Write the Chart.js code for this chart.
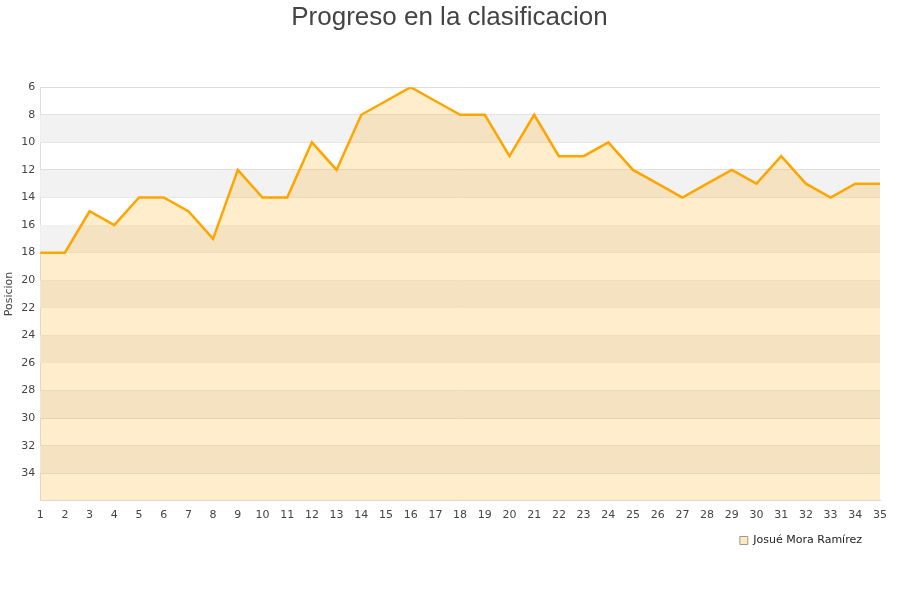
<!DOCTYPE html>
<html>
<head>
<meta charset="utf-8">
<script src="https://cdn.jsdelivr.net/npm/chart.js@4/dist/chart.umd.min.js"></script>
<style>
  html, body { margin: 0; padding: 0; background: #fff; }
  #wrap { width: 900px; height: 600px; }
</style>
</head>
<body>
<div id="wrap"><canvas id="chart"></canvas></div>
<script>
const jornadas = ['1','2','3','4','5','6','7','8','9','10','11','12','13','14','15','16','17','18','19','20','21','22','23','24','25','26','27','28','29','30','31','32','33','34','35'];
const posiciones = [18, 18, 15, 16, 14, 14, 15, 17, 12, 14, 14, 10, 12, 8, 7, 6, 7, 8, 8, 11, 8, 11, 11, 10, 12, 13, 14, 13, 12, 13, 11, 13, 14, 13, 13];
const jugador = 'Josué Mora Ramírez';
const posMin = 6;
const posMax = 36;

// alternating grey bands behind the area
const bands = {
    id: 'bands',
    beforeDatasetsDraw(chart) {
        const ctx = chart.ctx;
        const area = chart.chartArea;
        const y = chart.scales.y;
        ctx.save();
        ctx.fillStyle = '#f2f2f2';
        for (let v = posMin + 2; v < posMax; v += 4) {
            const top = y.getPixelForValue(v);
            const bottom = y.getPixelForValue(Math.min(v + 2, posMax));
            ctx.fillRect(area.left, top, area.right - area.left, bottom - top);
        }
        ctx.restore();
    }
};

// nudge legend away from the right edge and re-centre the title on the page
const boxShift = {
    id: 'boxShift',
    afterLayout(chart) {
        if (chart.legend) {
            chart.legend.right -= 13;
        }
        if (chart.titleBlock) {
            chart.titleBlock.left += 8;
            chart.titleBlock.right += 8;
        }
    }
};

new Chart(document.getElementById('chart').getContext('2d'), {
    type: 'line',
    data: {
        labels: jornadas,
        datasets: [{
            label: jugador,
            data: posiciones,
            borderColor: '#ffa500',
            backgroundColor: 'rgba(255, 165, 0, 0.2)',
            borderWidth: 2.5,
            fill: 'start',
            tension: 0,
            pointRadius: 0,
            pointHoverRadius: 0
        }]
    },
    options: {
        responsive: true,
        maintainAspectRatio: false,
        animation: false,
        layout: {
            padding: { left: 3, right: 20, top: 2, bottom: 44 }
        },
        plugins: {
            title: {
                display: true,
                text: 'Progreso en la clasificacion',
                color: '#444',
                font: { family: 'Liberation Sans', size: 26, weight: 'normal' },
                padding: { top: 0, bottom: 54 }
            },
            legend: {
                position: 'bottom',
                align: 'end',
                labels: {
                    color: '#222',
                    boxWidth: 8,
                    boxHeight: 8,
                    font: { family: 'DejaVu Sans', size: 11 },
                    padding: 5,
                    generateLabels: function(chart) {
                        const items = Chart.defaults.plugins.legend.labels.generateLabels(chart);
                        items.forEach(function(it) {
                            it.lineWidth = 1;
                            it.strokeStyle = '#999';
                            it.fillStyle = '#ffe8c0';
                        });
                        return items;
                    }
                }
            },
            tooltip: { enabled: false }
        },
        scales: {
            x: {
                offset: false,
                grid: { display: false, drawTicks: false },
                border: { color: '#ddd' },
                ticks: {
                    color: '#444',
                    font: { family: 'DejaVu Sans', size: 11 },
                    maxRotation: 0,
                    autoSkip: false,
                    padding: 8
                }
            },
            y: {
                reverse: true,
                min: posMin,
                max: posMax,
                grid: { color: '#e0ddd8', drawTicks: false },
                border: { color: '#ddd' },
                title: {
                    display: true,
                    text: 'Posicion',
                    color: '#444',
                    font: { family: 'DejaVu Sans', size: 11 },
                    padding: 0
                },
                ticks: {
                    stepSize: 2,
                    color: '#444',
                    font: { family: 'DejaVu Sans', size: 11 },
                    padding: 5,
                    callback: function(value) {
                        return value === posMax ? '' : value;
                    }
                }
            }
        }
    },
    plugins: [bands, boxShift]
});
</script>
</body>
</html>
